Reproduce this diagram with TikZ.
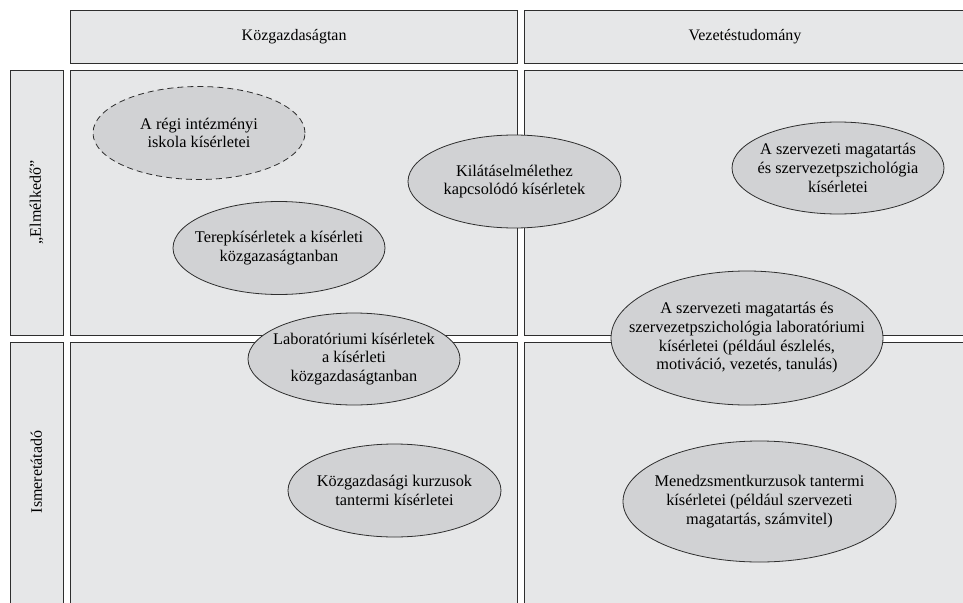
\documentclass[tikz,border=0pt]{standalone}
\usepackage{fontspec}
\setmainfont{Liberation Serif}
\usetikzlibrary{shapes.geometric}
\definecolor{cellfill}{HTML}{E6E7E8}
\definecolor{ovalfill}{HTML}{D1D2D4}
\definecolor{edge}{HTML}{2E2E2E}
\tikzset{
  cell/.style={draw=edge, fill=cellfill, line width=1.3pt},
  oval/.style={ellipse, draw=edge, fill=ovalfill, line width=0.8pt, inner sep=0pt},
  ovaltext/.style={align=center, inner sep=0pt, font=\fontsize{16.3}{18.7}\selectfont},
  lab/.style={font=\fontsize{16}{18}\selectfont},
  dashline/.style={dash pattern=on 6pt off 4pt},
}
\begin{document}
\begin{tikzpicture}[x=1pt,y=-1pt]
\path[use as bounding box] (0,0) rectangle (963,602);
\clip (0,0) rectangle (963,602);
% header
\node[cell, minimum width=447, minimum height=53, anchor=north west] (hk) at (70,10) {};
\node[cell, minimum width=450, minimum height=53, anchor=north west] (hv) at (524,10) {};
% row labels
\node[cell, minimum width=53, minimum height=265, anchor=north west] (re) at (10,70) {};
\node[cell, minimum width=53, minimum height=270, anchor=north west] (ri) at (10,342) {};
% cells
\node[cell, minimum width=447, minimum height=265, anchor=north west] (tl) at (70,70) {};
\node[cell, minimum width=450, minimum height=265, anchor=north west] (tr) at (524,70) {};
\node[cell, minimum width=447, minimum height=270, anchor=north west] (bl) at (70,342) {};
\node[cell, minimum width=450, minimum height=270, anchor=north west] (br) at (524,342) {};
% header texts
\node[lab] (tk) at (hk.center) {Közgazdaságtan};
\node[lab] (tv) at (745,36.5) {Vezetéstudomány};
\node[lab, rotate=90] (te) at (36.5,202.5) {„Elmélkedő”};
\node[lab, rotate=90] (ti) at (36.5,472) {Ismeretátadó};
% ovals
\node[oval, dashline, minimum width=212, minimum height=93] (o1) at (199,133) {};
\node[ovaltext] at (o1.center) {A régi intézményi\\iskola kísérletei};
\node[oval, minimum width=212, minimum height=93] (o2) at (279,248) {};
\node[ovaltext] at (o2.center) {Terepkísérletek a kísérleti\\közgazaságtanban};
\node[oval, minimum width=213, minimum height=93] (o3) at (514.5,181.5) {};
\node[ovaltext] at (o3.center) {Kilátáselmélethez\\kapcsolódó kísérletek};
\node[oval, minimum width=212, minimum height=92] (o4) at (838,168) {};
\node[ovaltext] at (o4.center) {A szervezeti magatartás\\és szervezetpszichológia\\kísérletei};
\node[oval, minimum width=272, minimum height=134] (o5) at (747,338) {};
\node[ovaltext] at (o5.center) {A szervezeti magatartás és\\szervezetpszichológia laboratóriumi\\kísérletei (például észlelés,\\motiváció, vezetés, tanulás)};
\node[oval, minimum width=212, minimum height=92] (o6) at (354,359) {};
\node[ovaltext] at (o6.center) {Laboratóriumi kísérletek\\a kísérleti\\közgazdaságtanban};
\node[oval, minimum width=213, minimum height=93] (o7) at (394.5,490.5) {};
\node[ovaltext] at (o7.center) {Közgazdasági kurzusok\\tantermi kísérletei};
\node[oval, minimum width=273, minimum height=121] (o8) at (759.5,501.5) {};
\node[ovaltext] at (o8.center) {Menedzsmentkurzusok tantermi\\kísérletei (például szervezeti\\magatartás, számvitel)};
\end{tikzpicture}
\end{document}
